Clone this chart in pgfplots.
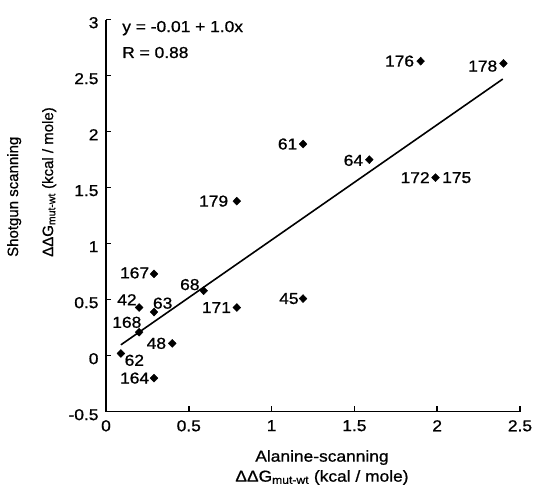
\documentclass[border=0pt]{standalone}
\usepackage{fontspec}
\setmainfont{Liberation Sans}[FakeStretch=1.1, FakeBold=0.9]
\newfontfamily\ylabfont{Liberation Sans}[FakeBold=0.9]
\usepackage{pgfplots}
\pgfplotsset{compat=1.18}
\newcommand{\lf}{\fontsize{15.8}{19}\selectfont}
\begin{document}
\begin{tikzpicture}[lab/.style={font=\lf, inner sep=0pt}]
\useasboundingbox (-106pt,-75.3pt) rectangle (433pt,411.7pt);
\begin{axis}[
  scale only axis, width=414pt, height=392pt,
  xmin=0, xmax=2.5, ymin=-0.5, ymax=3,
  axis lines=left, axis line style={-, line width=1.6pt, black},
  tick align=inside, major tick length=5.5pt, tick style={line width=1.5pt, black},
  xtick={0,0.5,1,1.5,2,2.5}, xticklabels={0,0.5,1,1.5,2,2.5},
  ytick={-0.5,0,0.5,1,1.5,2,2.5,3}, yticklabels={-0.5,0,0.5,1,1.5,2,2.5,3},
  ticklabel style={font=\lf},
  xticklabel style={yshift=-5pt},
  yticklabel style={xshift=-4pt, yshift=-3pt},
  xlabel={Alanine-scanning\\ΔΔG\textsubscript{mut-wt} (kcal / mole)},
  xlabel style={at={(axis description cs:0.5217,-0.0977)}, anchor=north, align=center, inner sep=0pt, font=\fontsize{15.8}{20}\selectfont},
  ylabel={Shotgun scanning\\[17pt]ΔΔG\textsubscript{mut-wt} (kcal / mole)},
  ylabel style={at={(axis description cs:-0.2391,0.3946)}, anchor=north west, align=left, inner sep=0pt, font=\ylabfont\fontsize{15}{18}\selectfont},
  clip=false,
]
\addplot[only marks, mark=diamond*, mark size=4pt, mark options={xscale=1.3, fill=black, draw=black}] coordinates {
  (1.9,2.63) (2.4,2.61) (1.19,1.89) (1.59,1.75) (1.99,1.59) (0.79,1.38)
  (1.19,0.51) (0.29,0.73) (0.2,0.43) (0.29,0.39) (0.59,0.58) (0.79,0.43)
  (0.2,0.21) (0.4,0.11) (0.09,0.02) (0.29,-0.2)
};
\addplot[line width=1.6pt, black, no marks] coordinates {(0.09,0.097) (2.396,2.47)};
\node[lab, anchor=east, xshift=-6.4pt] at (axis cs:1.9,2.63) {176};
\node[lab, anchor=east, xshift=-6pt, yshift=-2.7pt] at (axis cs:2.4,2.61) {178};
\node[lab, anchor=east, xshift=-5.6pt] at (axis cs:1.19,1.89) {61};
\node[lab, anchor=east, xshift=-6pt, yshift=-0.7pt] at (axis cs:1.59,1.75) {64};
\node[lab, anchor=east, xshift=-5.7pt] at (axis cs:1.99,1.59) {172};
\node[lab, anchor=west, xshift=6.5pt] at (axis cs:1.99,1.59) {175};
\node[lab, anchor=east, xshift=-8.5pt] at (axis cs:0.79,1.38) {179};
\node[lab, anchor=east, xshift=-4.3pt] at (axis cs:1.19,0.51) {45};
\node[lab, anchor=east, xshift=-4.7pt, yshift=1pt] at (axis cs:0.29,0.73) {167};
\node[lab, anchor=base east, xshift=-2.3pt, yshift=2.3pt] at (axis cs:0.2,0.43) {42};
\node[lab, anchor=base west, xshift=-1.2pt, yshift=3.4pt] at (axis cs:0.29,0.39) {63};
\node[lab, anchor=base east, xshift=-4pt, yshift=0.7pt] at (axis cs:0.59,0.58) {68};
\node[lab, anchor=east, xshift=-5.7pt] at (axis cs:0.79,0.43) {171};
\node[lab, anchor=base east, xshift=2.4pt, yshift=4.4pt] at (axis cs:0.2,0.21) {168};
\node[lab, anchor=east, xshift=-6pt] at (axis cs:0.4,0.11) {48};
\node[lab, anchor=base west, xshift=3.6pt, yshift=-12.3pt] at (axis cs:0.09,0.02) {62};
\node[lab, anchor=east, xshift=-4.7pt] at (axis cs:0.29,-0.2) {164};
\node[lab, anchor=base west] at (axis cs:0.097,2.89) {y = -0.01 + 1.0x};
\node[lab, anchor=base west] at (axis cs:0.097,2.658) {R = 0.88};
\end{axis}
\end{tikzpicture}
\end{document}
